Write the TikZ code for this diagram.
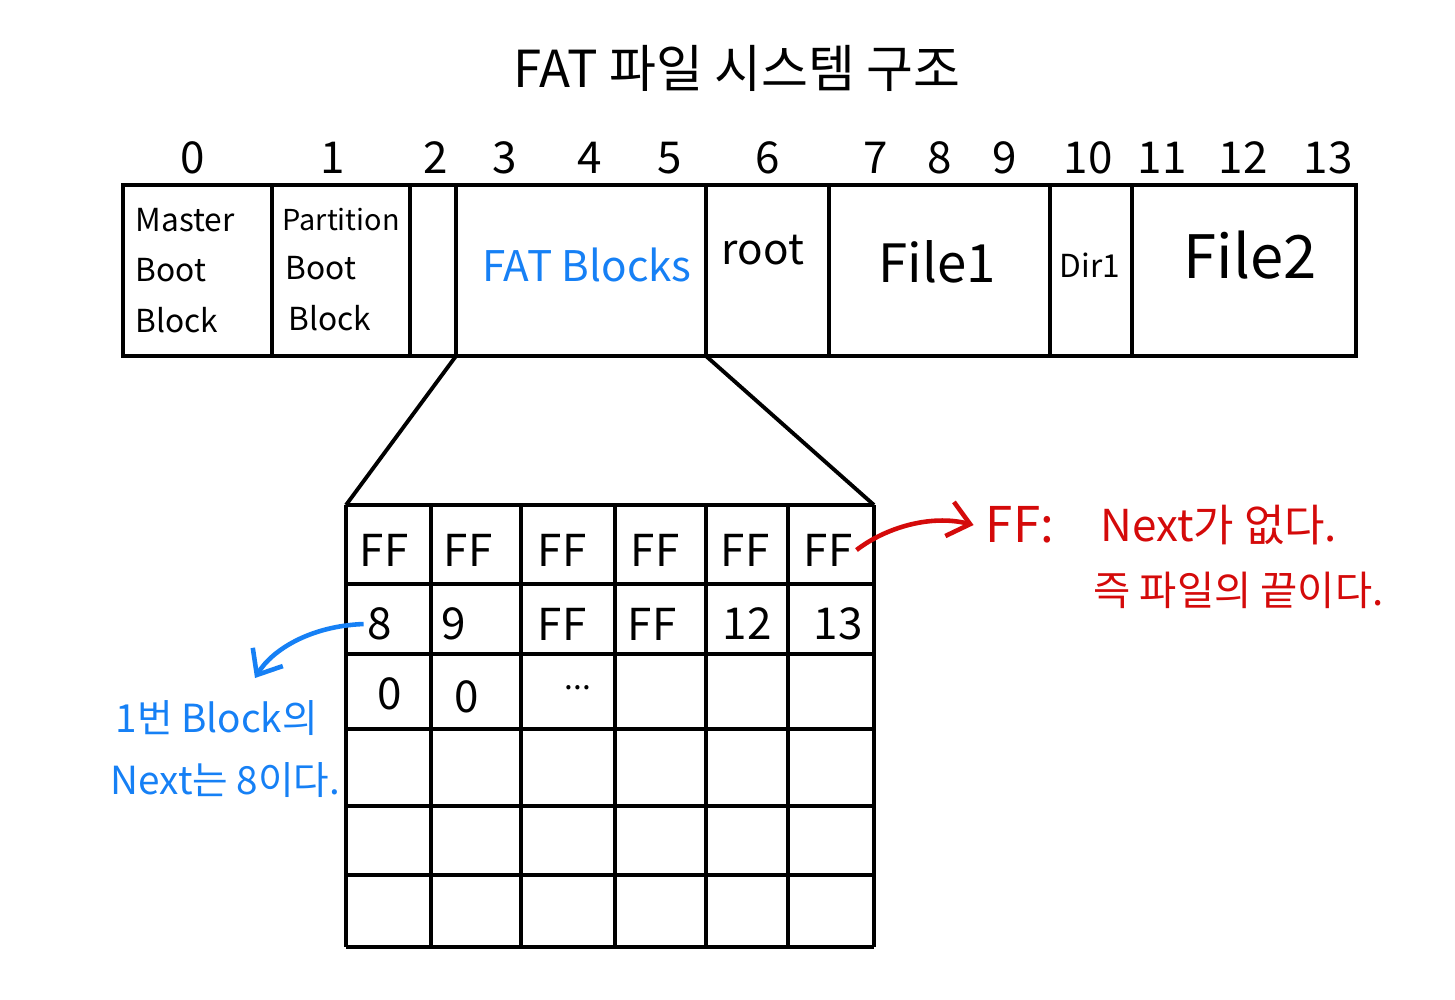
\documentclass[tikz,border=0pt]{standalone}
\usepackage{fontspec}
\setmainfont{Noto Sans CJK KR}
\usetikzlibrary{arrows.meta}
\definecolor{penblue}{RGB}{22,128,245}
\definecolor{penred}{RGB}{212,10,10}
\tikzset{
  bar/.style={line width=1.3pt},
  gridline/.style={line width=1.1pt},
  num/.style={font=\fontsize{12.5}{12.5}\selectfont},
  lbl/.style={font=\fontsize{9}{9}\selectfont, anchor=west, inner sep=0pt},
  cell/.style={font=\fontsize{12.5}{12.5}\selectfont, inner sep=1pt},
  bluenote/.style={text=penblue, font=\fontsize{11}{11}\selectfont, anchor=west, inner sep=0pt},
  rednote/.style={text=penred, font=\fontsize{12.5}{12.5}\selectfont, anchor=west, inner sep=0pt},
}
\begin{document}
\begin{tikzpicture}[x=0.01cm,y=-0.01cm]
	\useasboundingbox (0,0) rectangle (1455,999);
	\node[font=\fontsize{14.5}{14.5}\selectfont] (title) at (737,68) {FAT 파일 시스템 구조};
	% block numbers
	\foreach \n/\x in {0/193,1/333,2/436,3/505,4/590,5/670,6/768,7/876,8/940,9/1005,10/1088,11/1162,12/1243,13/1328}
		\node[num] (n\n) at (\x,158) {\n};
	% disk layout
	\draw[bar] (123,185) rectangle (1356,356);
	\foreach \x in {272,410,456,706,829,1050,1132}
		\draw[bar] (\x,185) -- (\x,356);
	\node[lbl] (mbr1) at (135,220) {Master};
	\node[lbl] (mbr2) at (135,270) {Boot};
	\node[lbl] (mbr3) at (135,320) {Block};
	\node[lbl, font=\fontsize{8.2}{8.2}\selectfont] (pbr1) at (282,220) {Partition};
	\node[lbl] (pbr2) at (285,268) {Boot};
	\node[lbl] (pbr3) at (288,318) {Block};
	\node[text=penblue, font=\fontsize{12}{12}\selectfont] (fat) at (587,265) {FAT Blocks};
	\node[font=\fontsize{12}{12}\selectfont] (root) at (763,250) {root};
	\node[font=\fontsize{15}{15}\selectfont] (file1) at (937,262) {File1};
	\node[font=\fontsize{9}{9}\selectfont] (dir1) at (1090,265) {Dir1};
	\node[font=\fontsize{17}{17}\selectfont] (file2) at (1250,255) {File2};
	% zoom lines
	\coordinate (fatL) at (456,356);
	\coordinate (fatR) at (706,356);
	\coordinate (tabL) at (346,505);
	\coordinate (tabR) at (874,505);
	\draw[gridline] (fatL) -- (tabL);
	\draw[gridline] (fatR) -- (tabR);
	% FAT table
	\foreach \x in {346,431,521,615,706,788,874}
		\draw[gridline] (\x,505) -- (\x,947);
	\foreach \y in {505,584,654,729,806,875,947}
		\draw[gridline] (346,\y) -- (874,\y);
	\foreach \x/\t [count=\i] in {384/FF,468/FF,562/FF,655/FF,745/FF,828/FF}
		\node[cell] (a\i) at (\x,550) {\t};
	\foreach \x/\t [count=\i] in {380/8,454/9,562/FF,652/FF,747/12,838/13}
		\node[cell] (b\i) at (\x,624) {\t};
	\node[cell] (c1) at (390,694) {0};
	\node[cell] (c2) at (467,697) {0};
	\node[font=\fontsize{9}{9}\selectfont] (c3) at (578,688) {...};
	% notes
	\node[text=penred, font=\fontsize{14}{14}\selectfont] (ffnote) at (1020,525) {FF:};
	\node[rednote] (red1) at (1100,525) {Next가 없다.};
	\node[rednote, font=\fontsize{11.5}{11.5}\selectfont] (red2) at (1093,590) {즉 파일의 끝이다.};
	\draw[penred, line width=1.3pt, -{Straight Barb[length=6pt,width=10pt]}] (a6.east) .. controls (885,528) and (930,514) .. (ffnote.west);
	\node[bluenote] (blue1) at (115,718) {1번 Block의};
	\node[bluenote] (blue2) at (110,780) {Next는 8이다.};
	\coordinate (bluetip) at (255,678);
	\draw[penblue, line width=1.3pt, -{Straight Barb[length=6pt,width=10pt]}] (b1.west) .. controls (310,626) and (272,650) .. (bluetip);
\end{tikzpicture}
\end{document}
